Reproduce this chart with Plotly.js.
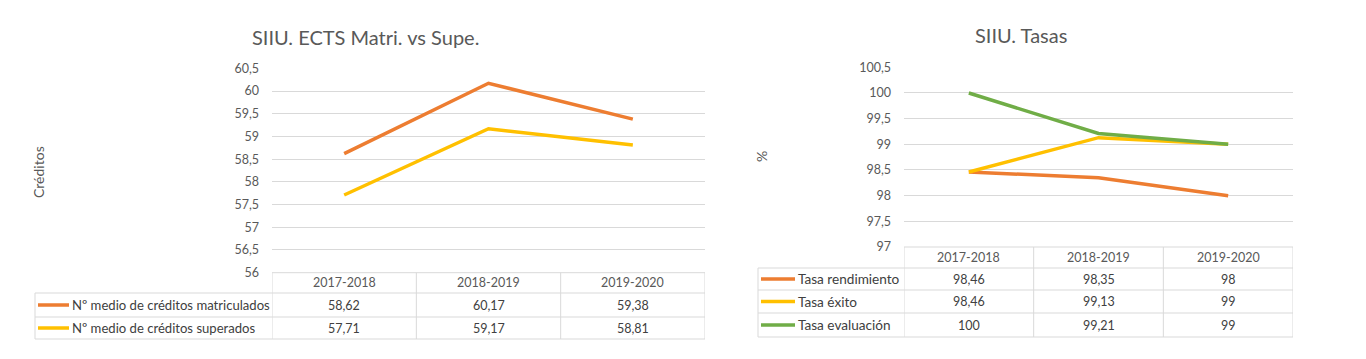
<!DOCTYPE html>
<html>
<head>
<meta charset="utf-8">
<script src="https://cdn.plot.ly/plotly-3.0.1.min.js"></script>
<style>html,body{margin:0;padding:0;background:#fff;}#chart{width:1366px;height:359px;}</style>
</head>
<body>
<div id="chart"></div>
<script>
// ---- data ----
const categories = ['2017-2018', '2018-2019', '2019-2020'];
const leftTitle = 'SIIU. ECTS Matri. vs Supe.';
const leftYTitle = 'Créditos';
const leftNames = ['Nº medio de créditos matriculados', 'Nº medio de créditos superados'];
const creditosMatriculados = [58.62, 60.17, 59.38];
const creditosSuperados = [57.71, 59.17, 58.81];

const rightTitle = 'SIIU. Tasas';
const rightYTitle = '%';
const rightNames = ['Tasa rendimiento', 'Tasa éxito', 'Tasa evaluación'];
const tasaRendimiento = [98.46, 98.35, 98];
const tasaExito = [98.46, 99.13, 99];
const tasaEvaluacion = [100, 99.21, 99];

// ---- styling ----
const W = 1366, H = 359;
const FONT = 'Lato, "Open Sans", sans-serif';
const ORANGE = '#ED7D31', YELLOW = '#FFC000', GREEN = '#70AD47';
const GRID = '#D9D9D9';
const TICKC = '#595959';
const TXT = '#404040';
const px = x => x / W;
const py = y => 1 - y / H;

const leftSeries = [
  {name: leftNames[0], values: creditosMatriculados, color: ORANGE},
  {name: leftNames[1], values: creditosSuperados, color: YELLOW}
];
const rightSeries = [
  {name: rightNames[0], values: tasaRendimiento, color: ORANGE},
  {name: rightNames[1], values: tasaExito, color: YELLOW},
  {name: rightNames[2], values: tasaEvaluacion, color: GREEN}
];

const fmt = v => String(v).replace('.', ',');

const traces = [];
leftSeries.forEach(s => traces.push({
  type: 'scatter', mode: 'lines', x: categories, y: s.values, name: s.name,
  xaxis: 'x', yaxis: 'y', line: {color: s.color, width: 3.5}, hoverinfo: 'skip'
}));
rightSeries.forEach(s => traces.push({
  type: 'scatter', mode: 'lines', x: categories, y: s.values, name: s.name,
  xaxis: 'x2', yaxis: 'y2', line: {color: s.color, width: 3.5}, hoverinfo: 'skip'
}));

const shapes = [];
const annotations = [];

function buildTable(cfg) {
  const xr = cfg.xref;
  const n = categories.length;
  const rowsY = cfg.rowEdges;
  const lineStyle = {color: GRID, width: 1};
  shapes.push({type: 'line', xref: xr, yref: 'paper', x0: -0.5, x1: n - 0.5,
    y0: py(rowsY[0]), y1: py(rowsY[0]), line: lineStyle});
  for (let i = 1; i < rowsY.length; i++) {
    shapes.push({type: 'line', xref: 'paper', yref: 'paper', x0: px(cfg.labelLeft), x1: cfg.rightPaper,
      y0: py(rowsY[i]), y1: py(rowsY[i]), line: lineStyle});
  }
  for (let k = 0; k <= n; k++) {
    shapes.push({type: 'line', xref: xr, yref: 'paper', x0: k - 0.5, x1: k - 0.5,
      y0: py(rowsY[0]), y1: py(rowsY[rowsY.length - 1]), line: lineStyle});
  }
  shapes.push({type: 'line', xref: 'paper', yref: 'paper', x0: px(cfg.labelLeft), x1: px(cfg.labelLeft),
    y0: py(rowsY[1]), y1: py(rowsY[rowsY.length - 1]), line: lineStyle});
  categories.forEach(c => annotations.push({
    xref: xr, yref: 'paper', x: c, y: py((rowsY[0] + rowsY[1]) / 2), text: c,
    showarrow: false, xanchor: 'center', yanchor: 'middle',
    font: {family: FONT, size: 12.5, color: TICKC}
  }));
  cfg.series.forEach((s, r) => {
    const yc = (rowsY[r + 1] + rowsY[r + 2]) / 2;
    shapes.push({type: 'line', xref: 'paper', yref: 'paper', x0: px(cfg.swatch[0]), x1: px(cfg.swatch[1]),
      y0: py(yc), y1: py(yc), line: {color: s.color, width: 3.5}});
    annotations.push({xref: 'paper', yref: 'paper', x: px(cfg.swatch[1] + 1), y: py(yc), text: s.name,
      showarrow: false, xanchor: 'left', yanchor: 'middle',
      font: {family: FONT, size: cfg.labelSize, color: TXT}});
    s.values.forEach((v, i) => annotations.push({
      xref: xr, yref: 'paper', x: categories[i], y: py(yc), text: fmt(v),
      showarrow: false, xanchor: 'center', yanchor: 'middle',
      font: {family: FONT, size: 12.5, color: TXT}
    }));
  });
}

const leftPlot = {l: 272, r: 705, t: 68.3, b: 272.7};
const rightPlot = {l: 904, r: 1293, t: 67.3, b: 247};

buildTable({xref: 'x', labelLeft: 35, rightPaper: px(leftPlot.r), labelSize: 13.1,
  rowEdges: [272.7, 293, 317, 339], swatch: [38, 69], series: leftSeries});
buildTable({xref: 'x2', labelLeft: 758, rightPaper: px(rightPlot.r), labelSize: 13.6,
  rowEdges: [247, 268, 290, 313, 337], swatch: [761, 795], series: rightSeries});

annotations.push({xref: 'paper', yref: 'paper', x: px(365), y: py(37), text: leftTitle, showarrow: false,
  xanchor: 'center', yanchor: 'middle', font: {family: FONT, size: 20, color: TICKC}});
annotations.push({xref: 'paper', yref: 'paper', x: px(1021), y: py(35), text: rightTitle, showarrow: false,
  xanchor: 'center', yanchor: 'middle', font: {family: FONT, size: 20, color: TICKC}});
annotations.push({xref: 'paper', yref: 'paper', x: px(38), y: py(172), text: leftYTitle, showarrow: false,
  textangle: -90, xanchor: 'center', yanchor: 'middle', font: {family: FONT, size: 14, color: TICKC}});
annotations.push({xref: 'paper', yref: 'paper', x: px(761), y: py(157), text: rightYTitle, showarrow: false,
  textangle: -90, xanchor: 'center', yanchor: 'middle', font: {family: FONT, size: 14, color: TICKC}});

const yAxisBase = {
  showgrid: true, gridcolor: GRID, gridwidth: 1, zeroline: false, showline: false,
  ticks: '', dtick: 0.5, tickfont: {family: FONT, size: 12.5, color: TICKC},
  ticklabelstandoff: 12, fixedrange: true
};
const xAxisBase = {
  type: 'category', range: [-0.5, categories.length - 0.5], showgrid: false, zeroline: false,
  showline: false, showticklabels: false, ticks: '', fixedrange: true
};

const layout = {
  width: W, height: H, margin: {l: 0, r: 0, t: 0, b: 0},
  paper_bgcolor: '#ffffff', plot_bgcolor: 'rgba(0,0,0,0)',
  separators: ',.', showlegend: false,
  xaxis: Object.assign({}, xAxisBase, {domain: [px(leftPlot.l), px(leftPlot.r)], anchor: 'y'}),
  yaxis: Object.assign({}, yAxisBase, {domain: [py(leftPlot.b), py(leftPlot.t)], range: [56, 60.5], anchor: 'x'}),
  xaxis2: Object.assign({}, xAxisBase, {domain: [px(rightPlot.l), px(rightPlot.r)], anchor: 'y2'}),
  yaxis2: Object.assign({}, yAxisBase, {domain: [py(rightPlot.b), py(rightPlot.t)], range: [97, 100.5], anchor: 'x2'}),
  shapes: shapes, annotations: annotations
};

Plotly.newPlot('chart', traces, layout, {displayModeBar: false, staticPlot: true});
</script>
</body>
</html>
